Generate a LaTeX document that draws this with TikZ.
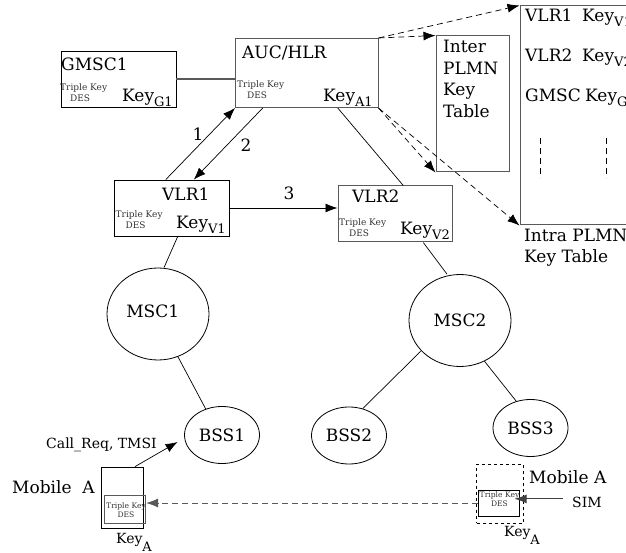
\documentclass[tikz,border=0pt]{standalone}
\usepackage{fontspec}
\setmainfont{DejaVu Serif}
\usetikzlibrary{shapes.geometric,arrows.meta}
\newcommand{\keysub}[2][-5pt]{Key\raisebox{#1}{\fontsize{13}{13}\selectfont #2}}
\tikzset{
  boxed/.style={shape=rectangle,draw=black,line width=0.8pt,inner sep=0pt},
  grayboxed/.style={boxed,draw=black!65,line width=1pt},
  oval/.style={shape=ellipse,draw=black,line width=0.8pt,inner sep=0pt,minimum width=75pt,minimum height=57pt,font=\fontsize{17}{18}\selectfont},
  bigoval/.style={oval,minimum width=102pt,minimum height=92pt},
  big/.style={inner sep=0pt,font=\fontsize{17}{18}\selectfont},
  small/.style={inner sep=0pt,font=\fontsize{14}{16}\selectfont},
  tinylabel/.style={inner sep=0pt,align=left,font=\fontsize{9}{11}\selectfont,text=black!80},
  tinierlabel/.style={inner sep=0pt,align=center,font=\fontsize{7.6}{9.5}\selectfont,text=black!80},
  wire/.style={line width=0.7pt},
  arrowline/.style={wire,-{Latex[length=12pt,width=9pt]}},
  dashline/.style={arrowline,dash pattern=on 6pt off 4pt},
}
\begin{document}
\begin{tikzpicture}[x=1pt,y=-1pt]
        \path[use as bounding box,clip] (0,0) rectangle (626,553);
        \node[boxed,minimum width=114.5pt,minimum height=56pt] (gmsc) at (118.75,79) {};
        \node[grayboxed,minimum width=142.5pt,minimum height=69pt] (auc) at (306.75,73) {};
        \node[boxed,minimum width=114.5pt,minimum height=56pt] (vlr1) at (171.75,208) {};
        \node[grayboxed,minimum width=114.5pt,minimum height=56pt] (vlr2) at (395.25,214) {};
        \node[grayboxed,minimum width=73pt,minimum height=136pt] (inter) at (472.5,104) {};
        \node[grayboxed,minimum width=160pt,minimum height=219pt] (intra) at (600,115.5) {};
        \node[bigoval] (msc1) at (158,314) {};
        \node[bigoval] (msc2) at (460,320.5) {MSC2};
        \node[oval] (bss1) at (222,435) {BSS1};
        \node[oval] (bss2) at (349,435.5) {BSS2};
        \node[oval] (bss3) at (530.5,428) {BSS3};
        \node[boxed,minimum width=42.5pt,minimum height=61pt] (mobile1) at (122.5,497.5) {};
        \node[grayboxed,minimum width=41.5pt,minimum height=28.5pt] (des1) at (124.75,509.5) {};
        \node[boxed,dashed,minimum width=46.5pt,minimum height=59pt] (mobile2) at (500,493.5) {};
        \node[boxed,minimum width=41pt,minimum height=26pt] (des2) at (498.5,503) {};

        \node[big,anchor=base west] (gmsclabel) at (61,71) {GMSC1};
        \node[big,anchor=base west] (auclabel) at (242,59) {AUC/HLR};
        \node[big,anchor=base west] (vlr1label) at (162,201) {VLR1};
        \node[big,anchor=base west] (vlr2label) at (352,203) {VLR2};
        \node[big] (msc1label) at (152.7,311) {MSC1};
        \node[tinylabel,anchor=west] (gmscdes) at (60,92.5) {Triple Key\\\hspace*{10pt}DES};
        \node[tinylabel,anchor=west] (aucdes) at (237,89.5) {Triple Key\\\hspace*{10pt}DES};
        \node[tinylabel,anchor=west] (vlr1des) at (115.5,219.5) {Triple Key\\\hspace*{10pt}DES};
        \node[tinylabel,anchor=west] (vlr2des) at (339,228) {Triple Key\\\hspace*{10pt}DES};
        \node[tinierlabel] (mobile1des) at (126,510) {Triple Key\\DES};
        \node[tinierlabel] (mobile2des) at (499.5,499) {Triple Key\\DES};
        \node[big,anchor=base west] (gmsckey) at (122,102) {\keysub{G1}};
        \node[big,anchor=base west] (auckey) at (323,102) {\keysub{A1}};
        \node[big,anchor=base west] (vlr1key) at (176,229) {\keysub{V1}};
        \node[big,anchor=base west] (vlr2key) at (400,235) {\keysub{V2}};
        \node[big,anchor=north west,align=left,font=\fontsize{17}{21.7}\selectfont] (interlabel) at (443,40) {Inter\\PLMN\\Key\\Table};
        \node[big,anchor=base west] (row1) at (525,22) {VLR1};
        \node[big,anchor=base west] (row2) at (525,62) {VLR2};
        \node[big,anchor=base west] (row3) at (525,102) {GMSC};
        \node[big,anchor=base west] (row1key) at (582,22) {\keysub{V1}};
        \node[big,anchor=base west] (row2key) at (582,62) {\keysub{V2}};
        \node[big,anchor=base west] (row3key) at (585,102) {\keysub{G}};
        \node[big,anchor=north west,align=left,font=\fontsize{17}{21}\selectfont] (intralabel) at (524,229) {Intra PLMN\\Key Table};
        \node[big] (one) at (198,134) {1};
        \node[big] (two) at (246,145) {2};
        \node[big] (three) at (289,193) {3};
        \node[small,anchor=base west] (callreq) at (46,448) {Call\_Req, TMSI};
        \node[big,anchor=base west] (mobile1label) at (12,493) {Mobile\ \ A};
        \node[big,anchor=base west] (mobile2label) at (529,483) {Mobile A};
        \node[small,anchor=base west] (sim) at (572,507) {SIM};
        \node[small,anchor=base west] (mobile1key) at (116,543) {\keysub[-8pt]{A}};
        \node[small,anchor=base west] (mobile2key) at (504,536) {\keysub[-8pt]{A}};

        \path[wire]
        (gmsc.east) edge[draw=black!65,line width=1.2pt] (gmsc.east -| auc.west)
        ([xshift=31pt]auc.south) edge ([xshift=8pt]vlr2.north)
        ([xshift=6pt]vlr1.south) edge ([xshift=6pt]msc1.north)
        ([xshift=28pt]vlr2.south) edge ([xshift=-13pt]msc2.north)
        (msc1.-65) edge (bss1.122)
        (msc2.-142) edge (bss2.63)
        (msc2.-59) edge (bss3.118)
        ;
        \path[arrowline]
        ([xshift=-6pt]vlr1.north) edge (auc.south west)
        ([xshift=-44pt]auc.south) edge ([xshift=22pt]vlr1.north)
        (vlr1.east) edge (vlr1.east -| vlr2.west)
        ([xshift=12.5pt]mobile1.north) edge ([shift={(-6.5,7)}]bss1.west)
        ([shift={(-9,-3)}]sim.west) edge[draw=black!75,line width=1pt] ([shift={(-9,-3)}]sim.west -| mobile2.east)
        ;
        \path[dashline]
        (auc.north east) edge (inter.north west)
        (auc.north east) edge (intra.north west)
        (auc.south east) edge (inter.south west)
        (auc.south east) edge (intra.south west)
        (des2.west) edge[draw=black!65,line width=1pt] (des2.west -| des1.east)
        ;
        \coordinate (dash1a) at (540.7,138);
        \coordinate (dash1b) at (540.7,178);
        \coordinate (dash2a) at (606.7,138);
        \coordinate (dash2b) at (606.7,178);
        \draw[wire,dash pattern=on 6pt off 4pt] (dash1a) -- (dash1b);
        \draw[wire,dash pattern=on 6pt off 4pt] (dash2a) -- (dash2b);
\end{tikzpicture}
\end{document}
